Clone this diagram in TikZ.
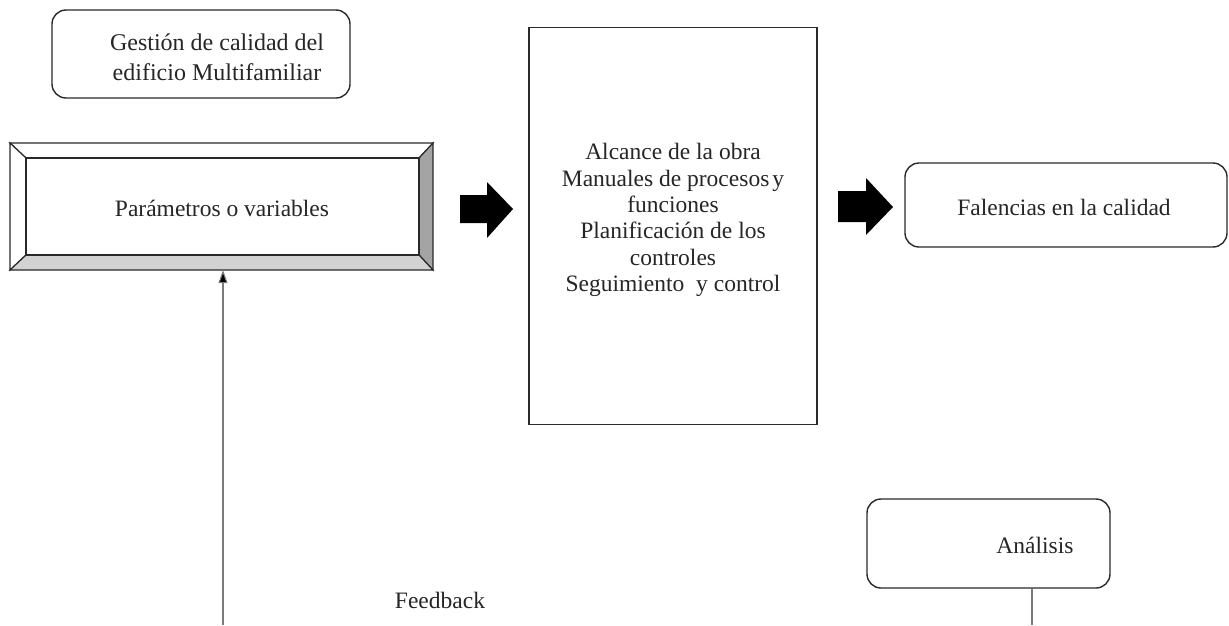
\documentclass[tikz,border=0pt]{standalone}
\usepackage{fontspec}
\setmainfont{Liberation Serif}
\usetikzlibrary{arrows.meta}
\definecolor{edge}{HTML}{2A2A2A}
\definecolor{bevbot}{HTML}{D2D2D2}
\definecolor{bevright}{HTML}{A4A4A4}
\definecolor{fbline}{HTML}{7A7A7A}
\tikzset{
  txt/.style={font=\fontsize{23.5}{26.4}\selectfont, text=black!85, align=center, inner sep=0pt},
  rbox/.style={draw=edge, line width=1.4pt, rounded corners=14pt, fill=white},
  sqbox/.style={draw=edge, line width=1.4pt, fill=white},
  bev/.style={draw=edge, line width=1.2pt},
  fatarrow/.style={fill=black, draw=none},
  thinline/.style={draw=fbline, line width=1.1pt}
}
\begin{document}
\begin{tikzpicture}[x=1pt,y=-1pt]
\useasboundingbox (0,0) rectangle (1229,625);
\fill[white] (0,0) rectangle (1229,625);

% Gestion box
\node[rbox, minimum width=298pt, minimum height=88pt, inner sep=0pt] (gest) at (201,54) {};
\node[txt, font=\fontsize{24}{30}\selectfont] (gesttxt) at (217,57) {Gestión de calidad del\\edificio Multifamiliar};

% Bevel box
\coordinate (o1) at (10,143);
\coordinate (o2) at (433,143);
\coordinate (o3) at (433,270);
\coordinate (o4) at (10,270);
\coordinate (i1) at (26,158);
\coordinate (i2) at (419,158);
\coordinate (i3) at (419,255);
\coordinate (i4) at (26,255);
\filldraw[bev, fill=white] (o1) -- (o2) -- (i2) -- (i1) -- cycle;
\filldraw[bev, fill=white] (o1) -- (i1) -- (i4) -- (o4) -- cycle;
\filldraw[bev, fill=bevright] (o2) -- (o3) -- (i3) -- (i2) -- cycle;
\filldraw[bev, fill=bevbot] (o4) -- (i4) -- (i3) -- (o3) -- cycle;
\node[draw=edge, line width=1.2pt, minimum width=393pt, minimum height=97pt, inner sep=0pt] (param) at (222.5,206.5) {};
\node[txt] (paramtxt) at (222,208) {Parámetros o variables};
\node[minimum width=423pt, minimum height=127pt, inner sep=0pt] (paramout) at (221.5,206.5) {};

% Arrow 1
\fill[fatarrow] (460,195) -- (487,195) -- (487,182) -- (513,209) -- (487,238) -- (487,223) -- (460,223) -- cycle;

% Tall box
\node[sqbox, minimum width=288pt, minimum height=397pt, inner sep=0pt] (mid) at (673,226) {};
\node[txt] (midtxt) at (673,220) {Alcance de la obra\\Manuales de procesos\hspace{3pt}y\\funciones\\Planificación de los\\controles\\Seguimiento\ \ y control};

% Arrow 2
\fill[fatarrow] (838,191) -- (866,191) -- (866,178) -- (893,207) -- (866,235) -- (866,222) -- (838,222) -- cycle;

% Falencias
\node[rbox, minimum width=322pt, minimum height=84pt, inner sep=0pt] (fal) at (1066,205) {};
\node[txt] (faltxt) at (1064,207) {Falencias en la calidad};

% Analisis
\node[rbox, minimum width=243pt, minimum height=89pt, inner sep=0pt] (ana) at (988.5,543.5) {};
\node[txt] (anatxt) at (1035,545) {Análisis};
\coordinate (anaend) at (1032,625);
\draw[thinline] (ana.south -| anaend) -- (anaend);

% Feedback
\coordinate (fbstart) at (223,625);
\draw[thinline, -{Triangle[length=13pt,width=9pt,fill=black]}] (fbstart) -- (fbstart |- paramout.south);
\node[txt] (fbtxt) at (440,600) {Feedback};
\end{tikzpicture}
\end{document}
